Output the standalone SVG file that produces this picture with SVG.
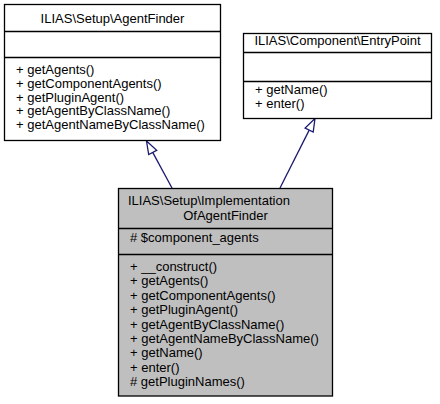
<svg xmlns="http://www.w3.org/2000/svg" width="440" height="404" viewBox="0 0 440 404">
<style>
.box{fill:#ffffff;stroke:#000000;stroke-width:1.3}
.cur{fill:#bfbfbf;stroke:#000000;stroke-width:1.3}
.sep{stroke:#000000;stroke-width:1.3;fill:none}
text{font-family:"Liberation Sans",Arial,Helvetica,sans-serif;font-size:13px;fill:#000000}
.mid{text-anchor:middle}
.edge{stroke:#191970;stroke-width:1.3;fill:none}
.head{fill:#ffffff;stroke:#191970;stroke-width:1.3}
</style>
<rect width="440" height="404" fill="#ffffff"/>
<g id="edges">
<path class="edge" d="M172,188 L152.7,152.4"/>
<polygon class="head" points="146.5,141 156.7,150.3 148.7,154.5"/>
<path class="edge" d="M280,188 L309.2,130.1"/>
<polygon class="head" points="315,118.5 313.2,132.1 305.1,128.1"/>
</g>
<g id="node_agentfinder">
<rect class="box" x="4.5" y="4.5" width="216" height="136"/>
<text class="mid" x="112.5" y="22.5">ILIAS\Setup\AgentFinder</text>
<path class="sep" d="M4.5,31.5 H220.5 M4.5,57.5 H220.5"/>
<text x="16" y="74">+ getAgents()</text>
<text x="16" y="87.75">+ getComponentAgents()</text>
<text x="16" y="101.5">+ getPluginAgent()</text>
<text x="16" y="115.25">+ getAgentByClassName()</text>
<text x="16" y="129">+ getAgentNameByClassName()</text>
</g>
<g id="node_entrypoint">
<rect class="box" x="243.5" y="33.5" width="188" height="85"/>
<text class="mid" x="337.5" y="44.5">ILIAS\Component\EntryPoint</text>
<path class="sep" d="M243.5,52.5 H431.5 M243.5,81.5 H431.5"/>
<text x="255" y="94">+ getName()</text>
<text x="255" y="107.5">+ enter()</text>
</g>
<g id="node_implementation">
<rect class="cur" x="118.5" y="188.5" width="214" height="207.5"/>
<text x="128" y="205">ILIAS\Setup\Implementation</text>
<text class="mid" x="225.5" y="220">OfAgentFinder</text>
<path class="sep" d="M118.5,228.5 H332.5 M118.5,254.5 H332.5"/>
<text x="130" y="242"># $component_agents</text>
<text x="130" y="271">+ __construct()</text>
<text x="130" y="285.4">+ getAgents()</text>
<text x="130" y="299.8">+ getComponentAgents()</text>
<text x="130" y="314.2">+ getPluginAgent()</text>
<text x="130" y="328.6">+ getAgentByClassName()</text>
<text x="130" y="343">+ getAgentNameByClassName()</text>
<text x="130" y="357.4">+ getName()</text>
<text x="130" y="371.8">+ enter()</text>
<text x="130" y="386.2"># getPluginNames()</text>
</g>
</svg>
